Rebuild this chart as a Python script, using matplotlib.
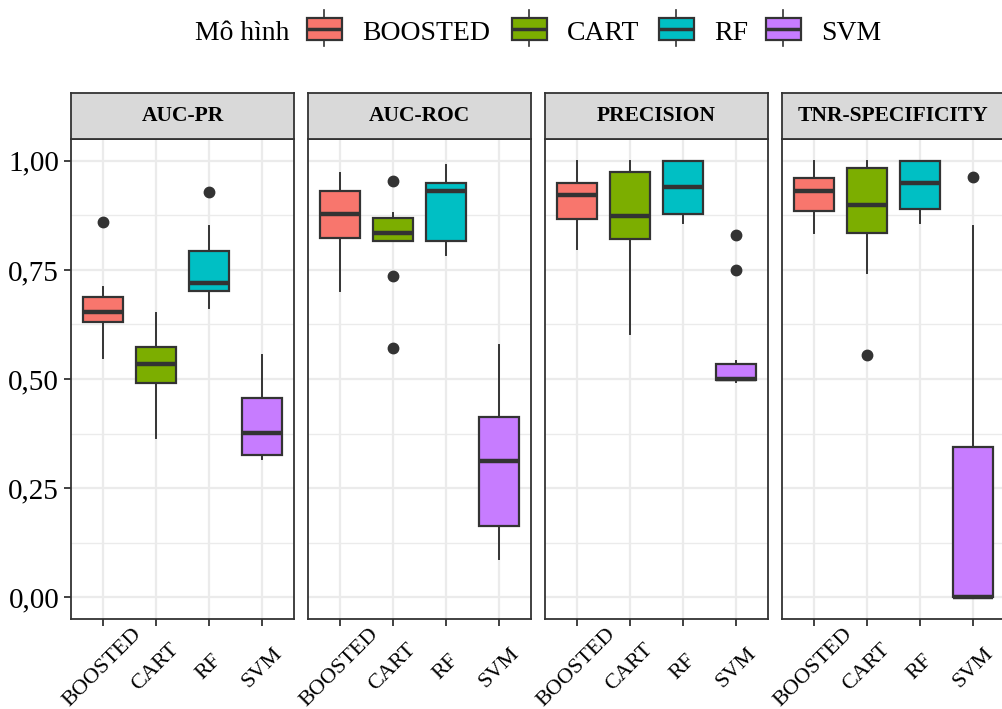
import matplotlib
matplotlib.use("Agg")
import matplotlib.pyplot as plt
from matplotlib.patches import Rectangle

metrics = ["AUC-PR", "AUC-ROC", "PRECISION", "TNR-SPECIFICITY"]
models = ["BOOSTED", "CART", "RF", "SVM"]
colors = ["#F8766D", "#7CAE00", "#00BFC4", "#C77CFF"]
legend_title = "Mô hình"
yticks = [0.0, 0.25, 0.50, 0.75, 1.00]
ytick_labels = ["0,00", "0,25", "0,50", "0,75", "1,00"]

# rows: metrics, columns: models
whislo = [[0.549, 0.364, 0.663, 0.317],
          [0.702, 0.816, 0.785, 0.087],
          [0.798, 0.602, 0.857, 0.492],
          [0.834, 0.742, 0.857, 0.000]]
q1 = [[0.630, 0.490, 0.702, 0.325],
      [0.823, 0.816, 0.816, 0.162],
      [0.867, 0.820, 0.877, 0.497],
      [0.886, 0.834, 0.890, 0.000]]
med = [[0.653, 0.534, 0.719, 0.376],
       [0.878, 0.835, 0.930, 0.311],
       [0.922, 0.873, 0.939, 0.499],
       [0.930, 0.899, 0.949, 0.000]]
q3 = [[0.689, 0.574, 0.794, 0.456],
      [0.930, 0.869, 0.949, 0.412],
      [0.949, 0.974, 1.000, 0.534],
      [0.960, 0.983, 1.000, 0.345]]
whishi = [[0.710, 0.652, 0.850, 0.556],
          [0.973, 0.880, 0.990, 0.578],
          [1.000, 1.000, 1.000, 0.542],
          [1.000, 1.000, 1.000, 0.850]]
outliers = [[[0.859], [], [0.929], []],
            [[], [0.954, 0.735, 0.572], [], []],
            [[], [], [], [0.831, 0.750]],
            [[], [0.556], [], [0.964]]]

plt.rcParams['font.family'] = ['Liberation Serif', 'DejaVu Serif']

W, H = 1003, 709
fig = plt.figure(figsize=(W / 100, H / 100), dpi=100)
dark = "#333333"

panel_left = [71, 308, 545, 782]
panel_w = 223
plot_top, plot_bot = 139, 619
strip_top = 93

for i, metric in enumerate(metrics):
    x0 = panel_left[i]
    ax = fig.add_axes([x0 / W, 1 - plot_bot / H, panel_w / W, (plot_bot - plot_top) / H])
    stats = []
    for j, m in enumerate(models):
        stats.append(dict(label=m, whislo=whislo[i][j], q1=q1[i][j], med=med[i][j],
                          q3=q3[i][j], whishi=whishi[i][j], fliers=outliers[i][j]))
    bp = ax.bxp(stats, positions=range(1, 5), widths=0.75, patch_artist=True,
                showcaps=False,
                boxprops=dict(edgecolor=dark, linewidth=1.6),
                medianprops=dict(color=dark, linewidth=3.2, solid_capstyle='butt'),
                whiskerprops=dict(color=dark, linewidth=1.4),
                flierprops=dict(marker='o', markerfacecolor=dark, markeredgecolor=dark,
                                markersize=7.5))
    for patch, c in zip(bp['boxes'], colors):
        patch.set_facecolor(c)
    ax.set_xlim(0.4, 4.6)
    ax.set_ylim(-0.05, 1.05)
    ax.set_yticks(yticks)
    ax.set_yticks([0.125, 0.375, 0.625, 0.875], minor=True)
    ax.set_axisbelow(True)
    ax.grid(True, which='major', color='#EBEBEB', linewidth=1.6)
    ax.grid(True, which='minor', axis='y', color='#EBEBEB', linewidth=1.0)
    ax.tick_params(axis='both', which='minor', length=0)
    ax.tick_params(axis='both', which='major', length=5, width=1.3, color=dark)
    ax.set_xticks(range(1, 5))
    ax.set_xticklabels(models, rotation=45, ha='center', va='center', fontsize=16)
    for lbl in ax.get_xticklabels():
        lbl.set_rotation_mode('anchor')
    ax.tick_params(axis='x', pad=30)
    if i == 0:
        ax.set_yticklabels(ytick_labels, fontsize=21)
    else:
        ax.tick_params(axis='y', length=0, labelleft=False)
    for s in ax.spines.values():
        s.set_color(dark)
        s.set_linewidth(1.3)
    # strip
    sax = fig.add_axes([x0 / W, 1 - plot_top / H, panel_w / W, (plot_top - strip_top) / H])
    sax.set_facecolor('#D9D9D9')
    sax.set_xticks([])
    sax.set_yticks([])
    for s in sax.spines.values():
        s.set_color(dark)
        s.set_linewidth(1.3)
    sax.text(0.5, 0.5, metric, transform=sax.transAxes, ha='center', va='center',
             fontsize=15.5, fontweight='bold')

# legend drawn in pixel coordinates
lax = fig.add_axes([0, 1 - 70 / H, 1, 70 / H])
lax.set_xlim(0, W)
lax.set_ylim(70, 0)
lax.axis('off')
lax.text(195, 40, legend_title, ha='left', va='baseline', fontsize=20)
key_x = [307, 512, 659, 766]
for k, (m, c) in enumerate(zip(models, colors)):
    kx = key_x[k]
    lax.plot([kx + 17.5, kx + 17.5], [10, 18], color=dark, lw=1.2)
    lax.plot([kx + 17.5, kx + 17.5], [40, 46], color=dark, lw=1.2)
    lax.add_patch(Rectangle((kx, 18), 35, 22, facecolor=c, edgecolor=dark, lw=1.6))
    lax.plot([kx, kx + 35], [29, 29], color=dark, lw=2.5, solid_capstyle='butt')
    lax.text(kx + 55, 40, m, ha='left', va='baseline', fontsize=20)

fig.savefig("out.png", dpi=100)
